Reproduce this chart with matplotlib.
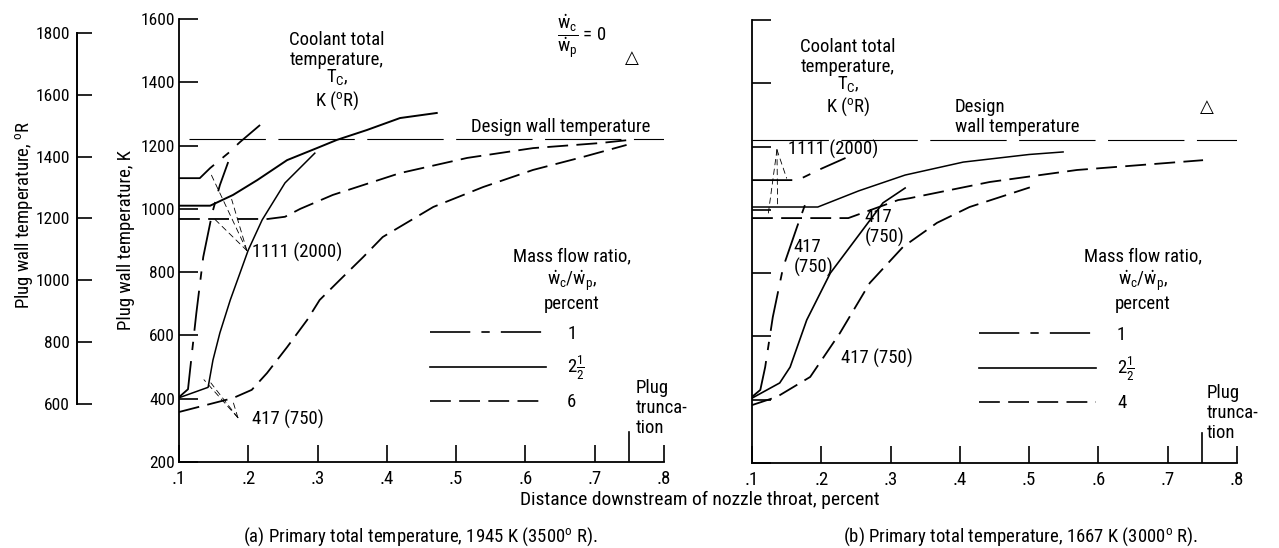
import matplotlib
matplotlib.use('Agg')
import matplotlib.pyplot as plt
from matplotlib import font_manager
from matplotlib.lines import Line2D

# ---------------- data ----------------
design_wall_K = 1222

# (a) primary total temperature 1945 K
a_x_1_hot = [0.1, 0.130, 0.145, 0.171, 0.188, 0.217]
a_y_1_hot = [1097, 1097, 1129, 1176, 1211, 1265]
a_x_1_cold = [0.1, 0.113, 0.116, 0.125, 0.135, 0.148, 0.159, 0.171]
a_y_1_cold = [405, 430, 491, 670, 848, 987, 1075, 1148]
a_x_25_hot = [0.1, 0.145, 0.178, 0.213, 0.256, 0.299, 0.328, 0.371, 0.419, 0.472]
a_y_25_hot = [1010, 1010, 1044, 1091, 1154, 1192, 1218, 1249, 1287, 1303]
a_x_25_cold = [0.1, 0.142, 0.149, 0.159, 0.174, 0.188, 0.2, 0.22, 0.253, 0.296]
a_y_25_cold = [403, 436, 522, 608, 712, 797, 870, 965, 1082, 1176]
a_x_6_hot = [0.1, 0.228, 0.253, 0.275, 0.322, 0.419, 0.516, 0.611, 0.708, 0.751]
a_y_6_hot = [968, 968, 975, 1000, 1044, 1113, 1161, 1192, 1208, 1218]
a_x_6_cold = [0.1, 0.178, 0.205, 0.227, 0.256, 0.285, 0.303, 0.332, 0.366, 0.394,
              0.467, 0.539, 0.611, 0.683, 0.746]
a_y_6_cold = [358, 402, 428, 481, 563, 649, 712, 775, 848, 911,
              1006, 1069, 1123, 1164, 1202]

# (b) primary total temperature 1667 K
b_x_1_hot = [0.1, 0.166, 0.200, 0.235]
b_y_1_hot = [1094, 1094, 1130, 1164]
b_x_1_cold = [0.1, 0.112, 0.119, 0.130, 0.145, 0.165, 0.179]
b_y_1_cold = [409, 431, 503, 661, 819, 946, 1031]
b_x_25_hot = [0.1, 0.195, 0.254, 0.321, 0.405, 0.500, 0.549]
b_y_25_hot = [1009, 1009, 1060, 1110, 1151, 1175, 1183]
b_x_25_cold = [0.1, 0.140, 0.155, 0.179, 0.213, 0.252, 0.289, 0.321]
b_y_25_cold = [405, 453, 503, 652, 800, 914, 1022, 1069]
b_x_4_hot = [0.1, 0.239, 0.311, 0.328, 0.443, 0.569, 0.751]
b_y_4_hot = [974, 974, 1031, 1037, 1088, 1126, 1157]
b_x_4_cold = [0.1, 0.136, 0.184, 0.227, 0.270, 0.318, 0.367, 0.414, 0.501]
b_y_4_cold = [383, 409, 472, 611, 769, 883, 959, 1009, 1071]

x_ticks = [0.1, 0.2, 0.3, 0.4, 0.5, 0.6, 0.7, 0.8]
x_ticklabels = ['.1', '.2', '.3', '.4', '.5', '.6', '.7', '.8']
k_ticks = [200, 400, 600, 800, 1000, 1200, 1400, 1600]
r_ticks = [600, 800, 1000, 1200, 1400, 1600, 1800]
plug_truncation = 0.75


def pick_font():
    '''a narrow sans face if one is installed, like the lettering of the scan'''
    fl = font_manager.fontManager.ttflist
    names = set(f.name for f in fl)
    for p in ['Liberation Sans Narrow', 'Roboto Condensed', 'Noto Sans Condensed',
              'Open Sans Condensed', 'DejaVu Sans Condensed']:
        if p in names:
            return p, False
    for base in ['DejaVu Sans', 'Noto Sans', 'Liberation Sans', 'Roboto', 'Open Sans']:
        for f in fl:
            if (f.name == base and f.style == 'normal'
                    and f.stretch in ('condensed', 'semi-condensed', 'extra-condensed')
                    and f.weight in (400, 'normal', 'regular', 'book')):
                return base, True
    return 'DejaVu Sans', None


fam, cond = pick_font()
plt.rcParams['font.family'] = [fam, 'DejaVu Sans']
mfam = fam
if cond:
    plt.rcParams['font.stretch'] = 'condensed'
    mfam = fam + ':stretch=condensed'
FS = 10.5 if cond is None else 13.5
TFS = FS * 0.93   # tick labels
plt.rcParams['font.size'] = FS
plt.rcParams['mathtext.fontset'] = 'custom'
plt.rcParams['mathtext.rm'] = mfam
plt.rcParams['mathtext.it'] = mfam
plt.rcParams['mathtext.bf'] = mfam
plt.rcParams['lines.scale_dashes'] = False

DASHDOT = (0, (29, 8, 6, 8))
DASHED = (0, (15, 6))
DESIGN = (0, (55, 9))
LEADER = (0, (4, 3))

W, H = 1279, 548
fig = plt.figure(figsize=(W / 100.0, H / 100.0), dpi=100)


def px_axes(x0, y0, x1, y1):
    '''axes from a pixel box (left, top, right, bottom)'''
    return fig.add_axes([x0 / W, 1 - y1 / H, (x1 - x0) / W, (y1 - y0) / H])


def px_text(x, y, s, **kw):
    fig.text(x / W, 1 - y / H, s, **kw)


def setup_axes(ax, ylabels=True):
    ax.set_xlim(0.1, 0.8)
    ax.set_ylim(200, 1600)
    ax.patch.set_alpha(0)
    for s in ['top', 'right']:
        ax.spines[s].set_visible(False)
    for s in ['left', 'bottom']:
        ax.spines[s].set_linewidth(1.3)
    ax.set_xticks(x_ticks)
    ax.set_xticklabels(x_ticklabels)
    ax.set_yticks(k_ticks)
    if not ylabels:
        ax.set_yticklabels([])
    ax.tick_params(axis='y', direction='in', length=14, width=1.2, pad=3, labelsize=TFS)
    ax.tick_params(axis='x', direction='in', length=12, width=1.2, pad=6, labelsize=FS)
    # plug truncation marker
    ax.plot([plug_truncation, plug_truncation], [200, 295], color='k', lw=1.2)
    ax.axhline(design_wall_K, xmin=0.02 if ylabels else 0.0, color='k', lw=0.8, ls=DESIGN)


def draw_panel(ax, curves):
    for xs, ys, ls, lw in curves:
        ax.plot(xs, ys, color='k', ls=ls, lw=lw)


def leaders(ax, start, ends):
    for e in ends:
        ax.annotate('', xy=e, xytext=start,
                    arrowprops=dict(arrowstyle='-', lw=0.6, ls=LEADER, color='k',
                                    shrinkA=0, shrinkB=0))


def legend(ax, last_label, x0):
    handles = [Line2D([], [], color='k', ls=DASHDOT, lw=1.2),
               Line2D([], [], color='k', ls='-', lw=1.2),
               Line2D([], [], color='k', ls=DASHED, lw=1.2)]
    labels = ['1', r'$2\frac{1}{2}$', last_label]
    ax.legend(handles, labels, loc='upper left', bbox_to_anchor=(x0, 0.31),
              frameon=False, handlelength=84.0 / FS, handletextpad=15.0 / FS,
              labelspacing=0.6, borderpad=0, borderaxespad=0)


# ---------------- ° R scale ----------------
axr = px_axes(77, 33, 78, 404)
axr.set_ylim(600, 1800)
axr.set_yticks(r_ticks)
axr.set_xticks([])
for s in ['top', 'right', 'bottom']:
    axr.spines[s].set_visible(False)
axr.spines['left'].set_linewidth(1.4)
axr.tick_params(axis='y', direction='in', length=11, width=1.2, pad=5, labelsize=TFS)

# ---------------- panel (a) ----------------
axa = px_axes(179, 19, 664, 462)
setup_axes(axa)
draw_panel(axa, [
    (a_x_1_hot, a_y_1_hot, DASHDOT, 1.3),
    (a_x_1_cold, a_y_1_cold, DASHDOT, 1.3),
    (a_x_25_hot, a_y_25_hot, '-', 1.4),
    (a_x_25_cold, a_y_25_cold, '-', 1.1),
    (a_x_6_hot, a_y_6_hot, DASHED, 1.3),
    (a_x_6_cold, a_y_6_cold, DASHED, 1.3),
])
leaders(axa, (0.198, 868), [(0.145, 1115), (0.176, 1030), (0.148, 975)])
leaders(axa, (0.185, 340), [(0.136, 460), (0.146, 450), (0.177, 398)])
axa.text(0.205, 862, '1111 (2000)', va='center', ha='left')
axa.text(0.205, 336, '417 (750)', va='center', ha='left')
legend(axa, '6', 0.517)

px_text(337, 50, 'Coolant total\ntemperature,', ha='center', va='center', linespacing=1.2)
px_text(337, 77, r'$T_C$,', ha='center', va='center')
px_text(337, 101, r'K ($^{\rm o}$R)', ha='center', va='center')
px_text(582, 37, r'$\dfrac{\dot{w}_c}{\dot{w}_p}$ = 0', ha='center', va='center')
px_text(632, 58, '\u25b3', ha='center', va='center', family='DejaVu Sans', fontsize=13)
px_text(561, 127, 'Design wall temperature', ha='center', va='center')
px_text(572, 280, 'Mass flow ratio,\n' + r'$\dot{w}_c/\dot{w}_p$,' + '\npercent',
        ha='center', va='center', linespacing=1.15)
px_text(636, 408, 'Plug\ntrunca-\ntion', ha='left', va='center', linespacing=1.15)

# ---------------- panel (b) ----------------
axb = px_axes(752, 20, 1237, 463)
setup_axes(axb, ylabels=False)
draw_panel(axb, [
    (b_x_1_hot, b_y_1_hot, DASHDOT, 1.3),
    (b_x_1_cold, b_y_1_cold, DASHDOT, 1.3),
    (b_x_25_hot, b_y_25_hot, '-', 1.1),
    (b_x_25_cold, b_y_25_cold, '-', 1.2),
    (b_x_4_hot, b_y_4_hot, DASHED, 1.3),
    (b_x_4_cold, b_y_4_cold, DASHED, 1.3),
])
leaders(axb, (0.136, 1190), [(0.123, 980), (0.137, 1010), (0.150, 1100)])
axb.text(0.152, 1192, '1111 (2000)', va='center', ha='left')
axb.text(0.160, 850, '417\n(750)', va='center', ha='left', linespacing=1.1)
axb.text(0.263, 945, '417\n(750)', va='center', ha='left', linespacing=1.1)
axb.text(0.228, 530, '417 (750)', va='center', ha='left')
legend(axb, '4', 0.469)

px_text(848, 57, 'Coolant total\ntemperature,', ha='center', va='center', linespacing=1.2)
px_text(848, 84, r'$T_C$,', ha='center', va='center')
px_text(848, 107, r'K ($^{\rm o}$R)', ha='center', va='center')
px_text(955, 117, 'Design\nwall temperature', ha='left', va='center', linespacing=1.1)
px_text(1207, 107, '\u25b3', ha='center', va='center', family='DejaVu Sans', fontsize=13)
px_text(1143, 280, 'Mass flow ratio,\n' + r'$\dot{w}_c/\dot{w}_p$,' + '\npercent',
        ha='center', va='center', linespacing=1.15)
px_text(1207, 413, 'Plug\ntrunca-\ntion', ha='left', va='center', linespacing=1.15)

# ---------------- axis titles and captions ----------------
px_text(24, 215, r'Plug wall temperature, $^{\rm o}$R', rotation=90, ha='center', va='center')
px_text(126, 240, 'Plug wall temperature, K', rotation=90, ha='center', va='center')
px_text(700, 500, 'Distance downstream of nozzle throat, percent', ha='center', va='center',
        fontsize=FS + 0.5)
px_text(420, 537, r'(a) Primary total temperature, 1945 K (3500$^{\rm o}$ R).',
        ha='center', va='center', fontsize=FS)
px_text(1020, 537, r'(b) Primary total temperature, 1667 K (3000$^{\rm o}$ R).',
        ha='center', va='center', fontsize=FS)

fig.savefig('out.png', dpi=100)
